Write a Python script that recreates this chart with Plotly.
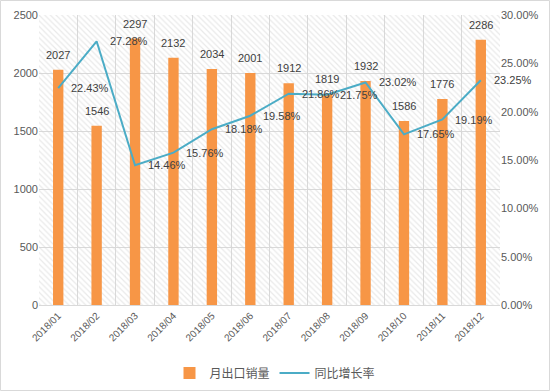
import plotly.graph_objects as go

months = ["2018/01", "2018/02", "2018/03", "2018/04", "2018/05", "2018/06",
          "2018/07", "2018/08", "2018/09", "2018/10", "2018/11", "2018/12"]
export_volume = [2027, 1546, 2297, 2132, 2034, 2001, 1912, 1819, 1932, 1586, 1776, 2286]
yoy_growth = [22.43, 27.28, 14.46, 15.76, 18.18, 19.58, 21.86, 21.75, 23.02, 17.65, 19.19, 23.25]

y_max = 2500
y2_max = 30

bar_color = "#F79646"
line_color = "#4BACC6"
label_color = "#404040"
font_family = "Liberation Sans, Noto Sans CJK SC, sans-serif"

fig = go.Figure()

# hatched plot-area background
fig.add_trace(go.Bar(
    x=months, y=[y_max] * len(months), width=1,
    marker=dict(color="rgba(0,0,0,0)", line=dict(width=0),
                pattern=dict(shape="\\", fgcolor="#d4d4d4", bgcolor="rgba(0,0,0,0)",
                             size=4, solidity=0.3)),
    showlegend=False, hoverinfo="skip",
))

fig.add_trace(go.Bar(
    x=months, y=export_volume, name="月出口销量", width=0.27,
    marker=dict(color=bar_color, line=dict(width=0)),
))

fig.add_trace(go.Scatter(
    x=months, y=[v / 100 for v in yoy_growth], name="同比增长率", yaxis="y2",
    mode="lines", line=dict(color=line_color, width=2),
))

annotations = []
for m, v in zip(months, export_volume):
    annotations.append(dict(x=m, y=v, xref="x", yref="y", text=str(v), showarrow=False,
                            yanchor="bottom", yshift=7,
                            font=dict(size=11, color=label_color)))
for m, v in zip(months, yoy_growth):
    annotations.append(dict(x=m, y=v / 100, xref="x", yref="y2", text=f"{v:.2f}%",
                            showarrow=False, xanchor="left", xshift=11,
                            font=dict(size=11, color=label_color)))

fig.update_layout(
    width=550, height=391,
    margin=dict(l=39, r=50, t=15, b=86),
    paper_bgcolor="white", plot_bgcolor="white",
    barmode="overlay",
    font=dict(family=font_family, size=11, color="#595959"),
    xaxis=dict(
        type="category", range=[-0.5, len(months) - 0.5], tickangle=-45, tickson="boundaries",
        showgrid=True, gridcolor="#d9d9d9", gridwidth=1, automargin=False,
        showline=True, linecolor="#d9d9d9", ticks="",
        tickfont=dict(size=10, color="#595959"),
    ),
    yaxis=dict(
        range=[0, y_max], dtick=500, showgrid=True, gridcolor="#d9d9d9",
        zeroline=False, showline=False, ticks="", automargin=False,
        tickfont=dict(size=11, color="#595959"),
    ),
    yaxis2=dict(
        range=[0, y2_max / 100], dtick=0.05, tickformat=".2%", overlaying="y", side="right",
        showgrid=False, zeroline=False, showline=False, ticks="", automargin=False,
        tickfont=dict(size=11, color="#595959"),
    ),
    legend=dict(orientation="h", x=0.5, xref="container", xanchor="center",
                y=18 / 391, yref="container", yanchor="middle",
                font=dict(size=12, color="#595959"), traceorder="normal"),
    annotations=annotations,
    shapes=[dict(type="rect", xref="paper", yref="paper",
                 x0=-38.5 / 461, x1=1 + 49.5 / 461, y0=-85.5 / 290, y1=1 + 14.5 / 290,
                 line=dict(color="#d9d9d9", width=1), fillcolor="rgba(0,0,0,0)", layer="below")],
)

fig.write_html("out.html",
               config={"displayModeBar": False, "responsive": False},
               post_script="document.body.style.margin='0';document.body.style.overflow='hidden';")
